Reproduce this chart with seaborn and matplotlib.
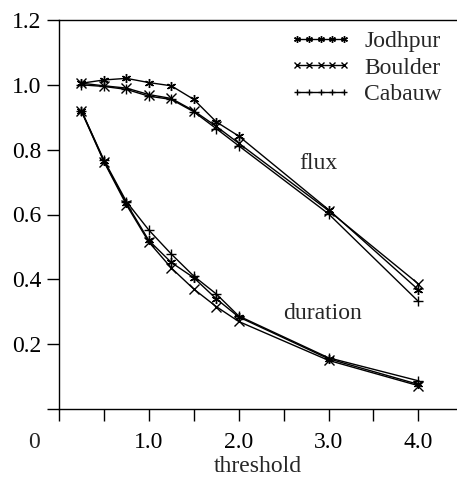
import matplotlib
matplotlib.use("Agg")
import matplotlib.pyplot as plt
import seaborn as sns

# threshold values shared by every series
threshold = [0.25, 0.5, 0.75, 1.0, 1.25, 1.5, 1.75, 2.0, 3.0, 4.0]

sites = ["Jodhpur", "Boulder", "Cabauw"]

flux_jodhpur = [1.005, 1.015, 1.02, 1.007, 0.997, 0.955, 0.886, 0.842, 0.615, 0.368]
flux_boulder = [1.005, 0.997, 0.99, 0.97, 0.958, 0.92, 0.872, 0.82, 0.612, 0.386]
flux_cabauw = [1.0, 0.995, 0.986, 0.965, 0.955, 0.917, 0.865, 0.812, 0.602, 0.332]

dur_jodhpur = [0.92, 0.765, 0.635, 0.52, 0.452, 0.405, 0.34, 0.284, 0.155, 0.076]
dur_boulder = [0.918, 0.763, 0.63, 0.515, 0.435, 0.37, 0.316, 0.27, 0.15, 0.072]
dur_cabauw = [0.92, 0.768, 0.64, 0.552, 0.478, 0.41, 0.355, 0.287, 0.158, 0.087]

x_ticks = [0, 0.5, 1.0, 1.5, 2.0, 2.5, 3.0, 3.5, 4.0]
x_tick_labels = ["", "", "1.0", "", "2.0", "", "3.0", "", "4.0"]
y_ticks = [0, 0.2, 0.4, 0.6, 0.8, 1.0, 1.2]
y_tick_labels = ["", "0.2", "0.4", "0.6", "0.8", "1.0", "1.2"]

markers = {"Jodhpur": (6, 2, 0), "Boulder": "x", "Cabauw": "+"}
flux = {"Jodhpur": flux_jodhpur, "Boulder": flux_boulder, "Cabauw": flux_cabauw}
duration = {"Jodhpur": dur_jodhpur, "Boulder": dur_boulder, "Cabauw": dur_cabauw}


def main():
    sns.set_style("ticks")
    plt.rcParams["font.family"] = ["Liberation Serif", "DejaVu Serif"]

    fig = plt.figure(figsize=(4.57, 4.82), dpi=100)
    W, H = 457, 482
    left, right, top, bottom = 59, 457, 20, 409
    ax = fig.add_axes([left / W, 1 - bottom / H, (right - left) / W, (bottom - top) / H])

    style = dict(color="black", markersize=6.5, markeredgewidth=1.0,
                 markeredgecolor="black", markerfacecolor="black", linewidth=1.0)
    for site in sites:
        sns.lineplot(x=threshold, y=flux[site], ax=ax, marker=markers[site], label=site, **style)
        sns.lineplot(x=threshold, y=duration[site], ax=ax, marker=markers[site], **style)
    handles = ax.get_lines()[0::2]

    ax.set_xlim(0, 4.43)
    ax.set_ylim(0, 1.2)
    ax.set_xticks(x_ticks)
    ax.set_xticklabels(x_tick_labels)
    ax.set_yticks(y_ticks)
    ax.set_yticklabels(y_tick_labels)
    ax.tick_params(direction="out", length=8.5, width=1.0, labelsize=17, colors="black")
    ax.tick_params(axis="x", pad=8)
    ax.tick_params(axis="y", pad=4)

    for side in ["left", "bottom", "top"]:
        ax.spines[side].set_linewidth(1.0)
        ax.spines[side].set_color("black")
    ax.spines["right"].set_visible(False)

    ax.set_xlabel("threshold", fontsize=17, labelpad=2)
    ax.set_ylabel("")

    # shared origin label
    ax.annotate("0", xy=(0, 0), xytext=(-18, -24), textcoords="offset points",
                ha="center", va="center", fontsize=17, annotation_clip=False)

    ax.text(2.89, 0.756, "flux", fontsize=17, ha="center", va="center")
    ax.text(2.93, 0.296, "duration", fontsize=17, ha="center", va="center")

    ax.legend(handles=handles, labels=sites, loc="upper left", bbox_to_anchor=(0.58, 0.972),
              frameon=False, numpoints=5, handlelength=2.6, handletextpad=0.55,
              labelspacing=0.2, borderpad=0, borderaxespad=0, fontsize=17, markerscale=0.75)

    fig.savefig("out.png", dpi=100)


if __name__ == "__main__":
    main()
